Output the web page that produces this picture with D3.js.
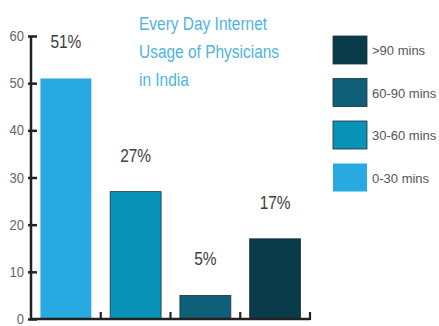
<!DOCTYPE html>
<html>
<head>
<meta charset="utf-8">
<script src="https://cdn.jsdelivr.net/npm/d3@7"></script>
<style>
  html, body { margin: 0; padding: 0; background: #fff; }
  svg { display: block; }
  text { font-family: "Liberation Sans", Arial, sans-serif; }
</style>
</head>
<body>
<svg id="chart" width="439" height="326"></svg>
<script>
const categories = ["0-30 mins", "30-60 mins", "60-90 mins", ">90 mins"];
const values = [51, 27, 5, 17];
const valueLabels = ["51%", "27%", "5%", "17%"];
const colors = ["#29a9e1", "#0a93b8", "#0f5f79", "#0a3b4b"];
const legendOrder = [">90 mins", "60-90 mins", "30-60 mins", "0-30 mins"];
const yTicks = [0, 10, 20, 30, 40, 50, 60];
const titleLines = ["Every Day Internet", "Usage of Physicians", "in India"];

const svg = d3.select("#chart");
const mLeft = 31, mRight = 310, mTop = 36, mBottom = 319;
const narrow = 0.86;

const x = d3.scaleBand().domain(categories).range([mLeft, mRight])
  .paddingInner(0.27).paddingOuter(0.135);
const y = d3.scaleLinear().domain([0, 60]).range([mBottom, mTop]);
const color = d3.scaleOrdinal().domain(categories).range(colors);

// bars
svg.append("g").selectAll("rect").data(categories).join("rect")
  .attr("x", d => x(d))
  .attr("y", (d, i) => y(values[i]))
  .attr("width", x.bandwidth())
  .attr("height", (d, i) => y(0) - y(values[i]))
  .attr("fill", d => color(d))
  .attr("stroke", (d, i) => i === 0 ? "none" : "#1d2f36")
  .attr("stroke-width", (d, i) => i === 0 ? 0 : 0.8);

// value labels (condensed)
svg.append("g").selectAll("text").data(categories).join("text")
  .attr("transform", (d, i) => `translate(${x(d) + x.bandwidth() / 2},${y(values[i]) - 30}) scale(${narrow},1)`)
  .attr("text-anchor", "middle")
  .attr("font-size", 18)
  .attr("fill", "#3d3d3d")
  .text((d, i) => valueLabels[i]);

// y axis
const yAxis = svg.append("g").attr("transform", `translate(${mLeft},0)`)
  .call(d3.axisLeft(y).tickValues(yTicks).tickSize(3).tickPadding(4));
yAxis.select(".domain").attr("stroke", "#222").attr("stroke-width", 2.5)
  .attr("d", `M0,${mTop}H0V${mBottom}`);
yAxis.selectAll(".tick line").attr("stroke", "#222").attr("stroke-width", 2.5)
  .attr("x1", -3).attr("x2", 6);
yAxis.selectAll(".tick text")
  .attr("x", null)
  .attr("transform", `translate(-7,0) scale(0.9,1)`)
  .attr("fill", "#666").attr("font-size", 14.5)
  .attr("font-family", '"Liberation Sans", Arial, sans-serif');

// x axis
const xAxis = svg.append("g").attr("transform", `translate(0,${mBottom})`);
xAxis.append("line").attr("x1", mLeft).attr("x2", mRight).attr("y1", 0).attr("y2", 0)
  .attr("stroke", "#222").attr("stroke-width", 2.5);
const boundaries = categories.map(d => x(d) + x.bandwidth() + x.step() * x.paddingInner() / 2);
boundaries[boundaries.length - 1] = mRight;
xAxis.selectAll("line.tk").data(boundaries).join("line").attr("class", "tk")
  .attr("x1", d => d).attr("x2", d => d).attr("y1", 1).attr("y2", -7)
  .attr("stroke", "#222").attr("stroke-width", 2.2);

// title (condensed)
svg.append("g").selectAll("text").data(titleLines).join("text")
  .attr("transform", (d, i) => `translate(139,${30 + i * 28}) scale(${narrow},1)`)
  .attr("font-size", 18)
  .attr("fill", "#4fb4e2")
  .text(d => d);

// legend
const lg = svg.append("g").attr("transform", "translate(333,36)");
const items = lg.selectAll("g").data(legendOrder).join("g")
  .attr("transform", (d, i) => `translate(0,${i * 42.5})`);
items.append("rect").attr("width", 34).attr("height", 28)
  .attr("fill", d => color(d))
  .attr("stroke", d => d === "0-30 mins" ? "none" : "#1d2f36")
  .attr("stroke-width", 0.8);
items.append("text").attr("x", 39).attr("y", 19)
  .attr("font-size", 13).attr("fill", "#555").text(d => d);
</script>
</body>
</html>
